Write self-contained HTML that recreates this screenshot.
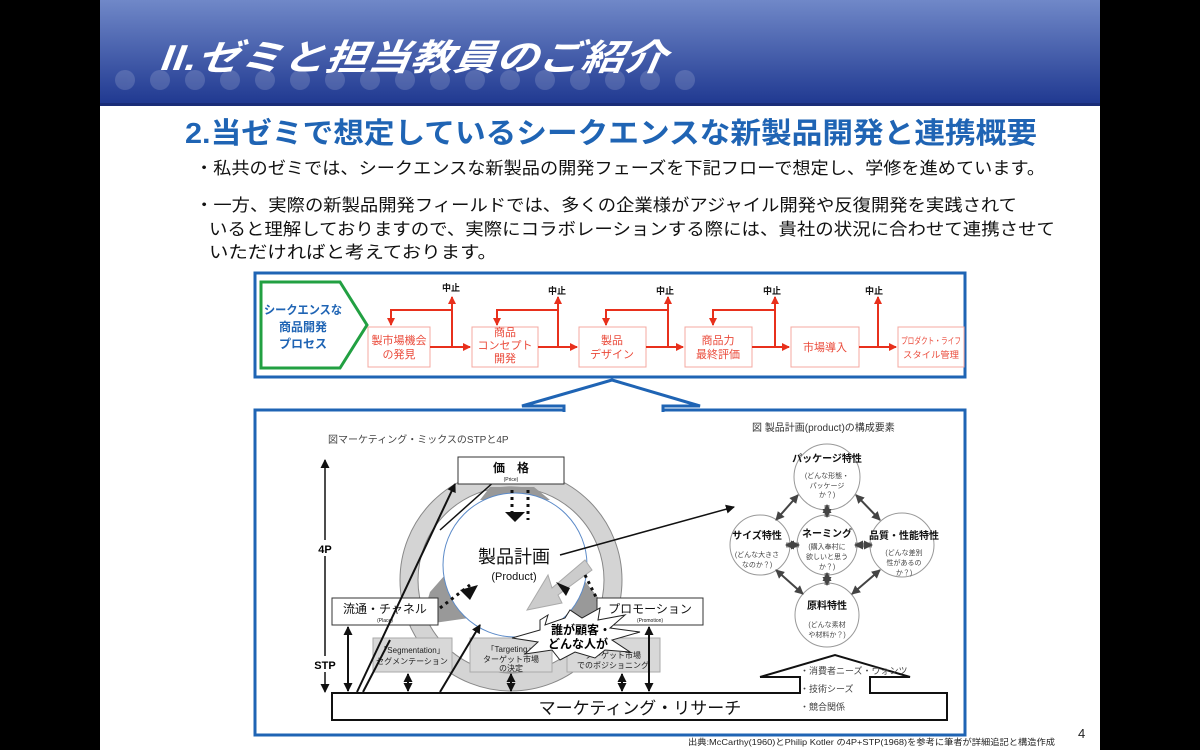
<!DOCTYPE html>
<html><head><meta charset="utf-8"><style>
html,body{margin:0;padding:0;background:#000;width:1200px;height:750px;overflow:hidden}
svg{display:block}
text{font-family:"Liberation Sans","Noto Sans CJK JP",sans-serif}
</style></head><body>
<svg width="1200" height="750" viewBox="0 0 1200 750" xmlns="http://www.w3.org/2000/svg">
<defs>
<linearGradient id="hg" x1="0" y1="0" x2="0" y2="1"><stop offset="0" stop-color="#7088c8"/><stop offset="1" stop-color="#1f3890"/></linearGradient>
<marker id="ar" markerWidth="8" markerHeight="8" refX="7" refY="4" orient="auto" markerUnits="userSpaceOnUse"><path d="M0,0 L8,4 L0,8z" fill="#e8301c"/></marker>
<marker id="ak" markerWidth="9" markerHeight="9" refX="8" refY="4.5" orient="auto-start-reverse" markerUnits="userSpaceOnUse"><path d="M0,0 L9,4.5 L0,9z" fill="#111"/></marker>
<marker id="ag" markerWidth="9" markerHeight="9" refX="8" refY="4.5" orient="auto-start-reverse" markerUnits="userSpaceOnUse"><path d="M0,0 L9,4.5 L0,9z" fill="#444"/></marker>
</defs>
<rect x="100" y="0" width="1000" height="750" fill="#fff"/>
<rect x="100" y="0" width="1000" height="105" fill="url(#hg)"/>
<g fill="#ffffff" opacity="0.15">
<circle cx="125" cy="80" r="10"/><circle cx="160" cy="80" r="10"/><circle cx="195" cy="80" r="10"/><circle cx="230" cy="80" r="10"/><circle cx="265" cy="80" r="10"/><circle cx="300" cy="80" r="10"/><circle cx="335" cy="80" r="10"/><circle cx="370" cy="80" r="10"/><circle cx="405" cy="80" r="10"/><circle cx="440" cy="80" r="10"/><circle cx="475" cy="80" r="10"/><circle cx="510" cy="80" r="10"/><circle cx="545" cy="80" r="10"/><circle cx="580" cy="80" r="10"/><circle cx="615" cy="80" r="10"/><circle cx="650" cy="80" r="10"/><circle cx="685" cy="80" r="10"/>
</g>
<rect x="100" y="103" width="1000" height="3" fill="#1a2d78"/>
<text x="160" y="70" font-size="36" font-weight="bold" font-style="italic" fill="#fff" textLength="505" lengthAdjust="spacingAndGlyphs" transform="skewX(-8) translate(10,0)">II.ゼミと担当教員のご紹介</text>

<text x="185" y="143" font-size="29" font-weight="bold" fill="#1f64b4" textLength="852" lengthAdjust="spacingAndGlyphs">2.当ゼミで想定しているシークエンスな新製品開発と連携概要</text>
<g font-size="17" fill="#111">
<text x="195" y="174" textLength="850" lengthAdjust="spacingAndGlyphs">・私共のゼミでは、シークエンスな新製品の開発フェーズを下記フローで想定し、学修を進めています。</text>
<text x="195" y="211" textLength="822" lengthAdjust="spacingAndGlyphs">・一方、実際の新製品開発フィールドでは、多くの企業様がアジャイル開発や反復開発を実践されて</text>
<text x="209" y="235" textLength="846" lengthAdjust="spacingAndGlyphs">いると理解しておりますので、実際にコラボレーションする際には、貴社の状況に合わせて連携させて</text>
<text x="209" y="258" textLength="288" lengthAdjust="spacingAndGlyphs">いただければと考えております。</text>
</g>

<!-- top process box -->
<rect x="255" y="273" width="710" height="104" fill="#fff" stroke="#1f64b4" stroke-width="3"/>
<path d="M261,282 L340,282 L367,325 L340,368 L261,368z" fill="#fff" stroke="#22a042" stroke-width="3"/>
<g font-size="12" font-weight="bold" fill="#1f64b4" text-anchor="middle">
<text x="303" y="314" textLength="78" lengthAdjust="spacingAndGlyphs">シークエンスな</text><text x="303" y="331">商品開発</text><text x="303" y="348">プロセス</text>
</g>
<g fill="#fff" stroke="#f4a8a0" stroke-width="1">
<rect x="368" y="327" width="62" height="40"/><rect x="472" y="327" width="66" height="40"/><rect x="579" y="327" width="67" height="40"/><rect x="685" y="327" width="67" height="40"/><rect x="791" y="327" width="68" height="40"/><rect x="898" y="327" width="66" height="40"/>
</g>
<g font-size="11" fill="#ea4a3a" text-anchor="middle">
<text x="399" y="344">製市場機会</text><text x="399" y="358">の発見</text>
<text x="505" y="336">商品</text><text x="505" y="349">コンセプト</text><text x="505" y="362">開発</text>
<text x="612" y="344">製品</text><text x="612" y="358">デザイン</text>
<text x="718" y="344">商品力</text><text x="718" y="358">最終評価</text>
<text x="825" y="351">市場導入</text>
<text x="931" y="344" font-size="9" textLength="60" lengthAdjust="spacingAndGlyphs">プロダクト・ライフ</text><text x="931" y="358" font-size="9" textLength="56" lengthAdjust="spacingAndGlyphs">スタイル管理</text>
</g>
<g stroke="#e8301c" stroke-width="2" fill="none">
<line x1="430" y1="347" x2="470" y2="347" marker-end="url(#ar)"/>
<line x1="538" y1="347" x2="577" y2="347" marker-end="url(#ar)"/>
<line x1="646" y1="347" x2="683" y2="347" marker-end="url(#ar)"/>
<line x1="752" y1="347" x2="789" y2="347" marker-end="url(#ar)"/>
<line x1="859" y1="347" x2="896" y2="347" marker-end="url(#ar)"/>
<line x1="452" y1="347" x2="452" y2="297" marker-end="url(#ar)"/><polyline points="452,310 391,310 391,325" marker-end="url(#ar)"/>
<line x1="558" y1="347" x2="558" y2="297" marker-end="url(#ar)"/><polyline points="558,310 497,310 497,325" marker-end="url(#ar)"/>
<line x1="668" y1="347" x2="668" y2="297" marker-end="url(#ar)"/><polyline points="668,310 606,310 606,325" marker-end="url(#ar)"/>
<line x1="775" y1="347" x2="775" y2="297" marker-end="url(#ar)"/><polyline points="775,310 713,310 713,325" marker-end="url(#ar)"/>
<line x1="878" y1="347" x2="878" y2="297" marker-end="url(#ar)"/>
</g>
<g font-size="9" font-weight="bold" fill="#111" text-anchor="middle">
<text x="451" y="291">中止</text><text x="557" y="294">中止</text><text x="665" y="294">中止</text><text x="772" y="294">中止</text><text x="874" y="294">中止</text>
</g>

<!-- lower box -->
<rect x="255" y="410" width="710" height="325" fill="#fff" stroke="#1f64b4" stroke-width="3"/>
<path d="M564,412 L564,406 L522,406 L612,380 L700,406 L663,406 L663,412" fill="#fff" stroke="#1f64b4" stroke-width="3" stroke-linejoin="miter"/>
<rect x="566" y="405" width="95" height="9" fill="#fff"/>

<text x="328" y="443" font-size="10" fill="#444">図マーケティング・ミックスのSTPと4P</text>
<line x1="325" y1="460" x2="325" y2="692" stroke="#111" stroke-width="1.5" marker-start="url(#ak)" marker-end="url(#ak)"/>
<rect x="316" y="540" width="18" height="16" fill="#fff"/><text x="325" y="553" font-size="11" font-weight="bold" text-anchor="middle">4P</text>
<rect x="314" y="656" width="22" height="16" fill="#fff"/><text x="325" y="669" font-size="11" font-weight="bold" text-anchor="middle">STP</text>

<!-- ring -->
<circle cx="511" cy="580" r="102" fill="none" stroke="#d4d4d4" stroke-width="18"/>
<circle cx="511" cy="580" r="111" fill="none" stroke="#888" stroke-width="1"/>
<circle cx="511" cy="580" r="93" fill="none" stroke="#888" stroke-width="1"/>
<path d="M490,487 L534,487 L550,500 L480,500z" fill="#999"/>
<path d="M445,575 L490,615 L420,625 L430,592z" fill="#999"/>
<path d="M580,575 L600,600 L598,625 L555,615z" fill="#999"/>
<circle cx="515" cy="565" r="72" fill="#fff" stroke="#5b8ac8" stroke-width="1"/>
<text x="514" y="563" font-size="18" text-anchor="middle" fill="#111">製品計画</text>
<text x="514" y="580" font-size="11" text-anchor="middle" fill="#111">(Product)</text>
<path d="M527,610 L548,575 L552,588 L585,560 L592,570 L558,595 L562,603z" fill="#ccc" stroke="#aaa"/>
<line x1="440" y1="530" x2="496" y2="480" stroke="#111" stroke-width="1.5"/>
<line x1="560" y1="555" x2="734" y2="507" stroke="#111" stroke-width="1.5" marker-end="url(#ak)"/>
<path d="M505,512 L525,512 L515,522z" fill="#111"/>
<path d="M460,590 L478,585 L470,600z" fill="#111"/>
<path d="M570,588 L556,582 L566,596z" fill="#111"/>
<g stroke="#111" stroke-width="3" stroke-dasharray="3,4"><line x1="512" y1="490" x2="512" y2="515"/><line x1="528" y1="490" x2="528" y2="520"/><line x1="440" y1="608" x2="470" y2="585"/><line x1="585" y1="575" x2="600" y2="605"/></g>

<g fill="#fff" stroke="#333" stroke-width="1">
<rect x="458" y="457" width="106" height="27"/><rect x="332" y="598" width="106" height="27"/><rect x="597" y="598" width="106" height="27"/>
</g>
<g text-anchor="middle" fill="#111">
<text x="511" y="472" font-size="12" font-weight="bold">価　格</text><text x="511" y="481" font-size="5">(Price)</text>
<text x="385" y="613" font-size="12">流通・チャネル</text><text x="385" y="622" font-size="5">(Place)</text>
<text x="650" y="613" font-size="12">プロモーション</text><text x="650" y="622" font-size="5">(Promotion)</text>
</g>
<g fill="#d8d8d8" stroke="#aaa"><rect x="373" y="638" width="79" height="34"/><rect x="470" y="638" width="82" height="34"/><rect x="567" y="638" width="93" height="34"/></g>
<g font-size="8" fill="#222" text-anchor="middle">
<text x="412" y="653">「Segmentation」</text><text x="412" y="664">セグメンテーション</text>
<text x="511" y="652">「Targeting」</text><text x="511" y="662">ターゲット市場</text><text x="511" y="671">の決定</text>
<text x="613" y="658">ターゲット市場</text><text x="613" y="668">でのポジショニング</text>
</g>
<path d="M540,620 L548,615 L545,625 L565,618 L570,610 L582,618 L600,608 L598,620 L625,615 L610,628 L640,632 L612,640 L630,652 L605,650 L595,658 L575,652 L560,660 L552,650 L525,654 L538,642 L512,638 L540,630z" fill="#fff" stroke="#222"/>
<text x="581" y="634" font-size="12" font-weight="bold" text-anchor="middle">誰が顧客・</text>
<text x="578" y="648" font-size="12" font-weight="bold" text-anchor="middle">どんな人が</text>

<rect x="332" y="693" width="615" height="27" fill="#fff" stroke="#111" stroke-width="2"/>
<g stroke="#111" stroke-width="2">
<line x1="348" y1="627" x2="348" y2="691" marker-start="url(#ak)" marker-end="url(#ak)"/>
<line x1="649" y1="627" x2="649" y2="691" marker-start="url(#ak)" marker-end="url(#ak)"/>
<line x1="408" y1="674" x2="408" y2="691" marker-start="url(#ak)" marker-end="url(#ak)"/>
<line x1="511" y1="674" x2="511" y2="691" marker-start="url(#ak)" marker-end="url(#ak)"/>
<line x1="622" y1="674" x2="622" y2="691" marker-start="url(#ak)" marker-end="url(#ak)"/>
<line x1="357" y1="692" x2="455" y2="484" marker-end="url(#ak)"/>
<line x1="440" y1="692" x2="480" y2="625" marker-end="url(#ak)"/>
<line x1="363" y1="692" x2="390" y2="640"/>
</g>
<text x="640" y="714" font-size="17" text-anchor="middle" fill="#111">マーケティング・リサーチ</text>

<!-- right -->
<text x="752" y="431" font-size="10" fill="#333">図 製品計画(product)の構成要素</text>
<g fill="#fff" stroke="#999">
<circle cx="827" cy="477" r="33"/><circle cx="760" cy="545" r="30"/><circle cx="827" cy="545" r="30"/><circle cx="902" cy="545" r="32"/><circle cx="827" cy="615" r="32"/>
</g>
<g stroke="#444" stroke-width="2">
<line x1="798" y1="495" x2="776" y2="520" marker-start="url(#ag)" marker-end="url(#ag)"/>
<line x1="856" y1="495" x2="880" y2="520" marker-start="url(#ag)" marker-end="url(#ag)"/>
<line x1="776" y1="570" x2="803" y2="594" marker-start="url(#ag)" marker-end="url(#ag)"/>
<line x1="880" y1="570" x2="852" y2="594" marker-start="url(#ag)" marker-end="url(#ag)"/>
</g>
<g stroke="#888" stroke-width="5">
<line x1="827" y1="505" x2="827" y2="517" marker-start="url(#ag)" marker-end="url(#ag)"/>
<line x1="827" y1="573" x2="827" y2="585" marker-start="url(#ag)" marker-end="url(#ag)"/>
<line x1="786" y1="545" x2="799" y2="545" marker-start="url(#ag)" marker-end="url(#ag)"/>
<line x1="855" y1="545" x2="872" y2="545" marker-start="url(#ag)" marker-end="url(#ag)"/>
</g>
<g text-anchor="middle" fill="#111">
<text x="827" y="462" font-size="10" font-weight="bold">パッケージ特性</text>
<text x="827" y="478" font-size="7" fill="#444">(どんな形態・</text><text x="827" y="488" font-size="7" fill="#444">パッケージ</text><text x="827" y="497" font-size="7" fill="#444">か？)</text>
<text x="757" y="539" font-size="10" font-weight="bold">サイズ特性</text>
<text x="757" y="557" font-size="7" fill="#444">(どんな大きさ</text><text x="757" y="567" font-size="7" fill="#444">なのか？)</text>
<text x="827" y="537" font-size="10" font-weight="bold">ネーミング</text>
<text x="827" y="549" font-size="7" fill="#444">(購入奉村に</text><text x="827" y="559" font-size="7" fill="#444">欲しいと思う</text><text x="827" y="569" font-size="7" fill="#444">か？)</text>
<text x="904" y="539" font-size="10" font-weight="bold">品質・性能特性</text>
<text x="904" y="555" font-size="7" fill="#444">(どんな差別</text><text x="904" y="565" font-size="7" fill="#444">性があるの</text><text x="904" y="575" font-size="7" fill="#444">か？)</text>
<text x="827" y="609" font-size="10" font-weight="bold">原料特性</text>
<text x="827" y="627" font-size="7" fill="#444">(どんな素材</text><text x="827" y="637" font-size="7" fill="#444">や材料か？)</text>
</g>
<path d="M760,677 L835,655 L910,677 L870,677 L870,693" fill="none" stroke="#111" stroke-width="2"/>
<path d="M800,693 L800,677 L760,677" fill="none" stroke="#111" stroke-width="2"/>
<rect x="801" y="692" width="68" height="3" fill="#fff"/>
<g font-size="9" fill="#444">
<text x="800" y="674">・消費者ニーズ・ウォンツ</text><text x="800" y="692">・技術シーズ</text><text x="800" y="710">・競合関係</text>
</g>

<text x="688" y="745" font-size="8.5" fill="#222" textLength="367" lengthAdjust="spacingAndGlyphs">出典:McCarthy(1960)とPhilip Kotler の4P+STP(1968)を参考に筆者が詳細追記と構造作成</text>
<text x="1078" y="738" font-size="13" fill="#222">4</text>
</svg>
</body></html>
